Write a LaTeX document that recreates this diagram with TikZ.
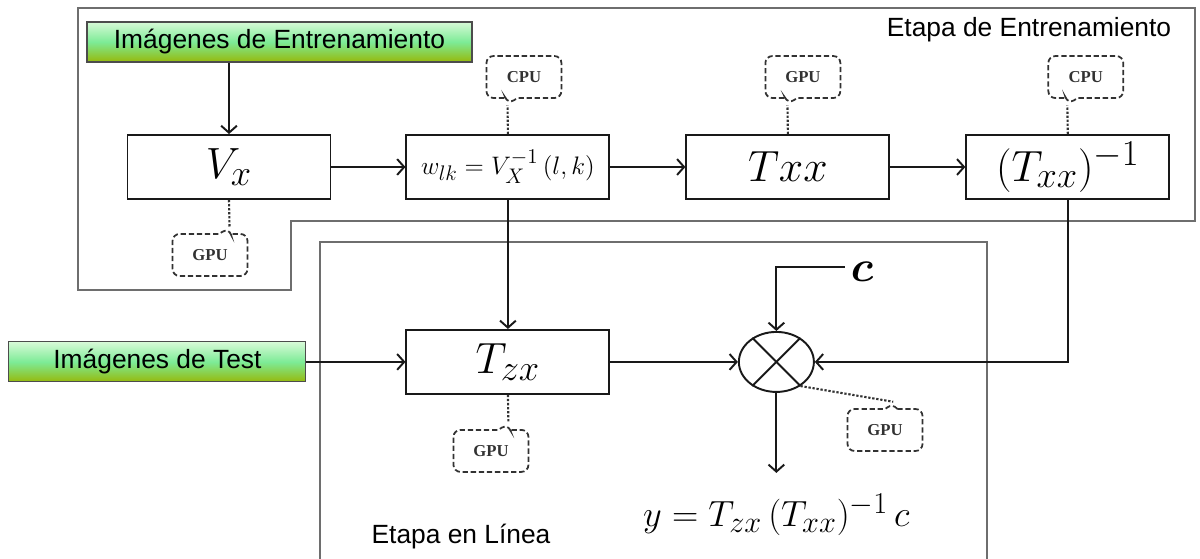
\documentclass[tikz,border=0pt]{standalone}
\usepackage{fontspec}
\usepackage{amsmath}
\setmainfont{Liberation Sans}
\newfontfamily\tagfont{Liberation Serif}
\usetikzlibrary{positioning, arrows.meta, shapes.geometric, shapes.callouts, calc}
% larger sub/superscripts for the block formulas
\DeclareMathSizes{26}{26}{21}{16}
\DeclareMathSizes{15}{15}{12}{10}
\DeclareMathSizes{21}{21}{17}{13}
\definecolor{GreenTop}{RGB}{215, 250, 215}
\definecolor{GreenMid}{RGB}{125, 235, 150}
\definecolor{GreenBot}{RGB}{150, 185, 10}
\definecolor{FrameColor}{RGB}{110, 110, 110}
\definecolor{LineColor}{RGB}{25, 25, 25}
\definecolor{TagColor}{RGB}{50, 50, 50}
\tikzset{
    block/.style={
        draw=LineColor,
        line width=1.1pt,
        minimum width=4.06cm,
        minimum height=1.28cm,
        inner sep=2pt
    },
    bigmath/.style={font=\fontsize{26}{30}\selectfont},
    source/.style={
        draw=black!70,
        line width=0.6pt,
        top color=GreenTop,
        bottom color=GreenBot,
        middle color=GreenMid,
        minimum height=0.8cm,
        inner sep=0pt,
        font=\fontsize{15}{18}\selectfont
    },
    tag/.style={
        rectangle callout,
        draw=TagColor,
        line width=1pt,
        dash pattern=on 3pt off 1.6pt,
        rounded corners=4pt,
        minimum width=1.5cm,
        minimum height=0.84cm,
        callout pointer width=0.24cm,
        text=TagColor,
        font=\tagfont\bfseries\fontsize{9.5}{12}\selectfont
    }
}

\begin{document}
\begin{tikzpicture}[
    flow/.style={draw=LineColor, line width=1.1pt, -{Straight Barb[length=4pt, width=9pt]}},
    link/.style={draw=TagColor, line width=1.2pt, dash pattern=on 1.3pt off 1pt},
    frame/.style={draw=FrameColor, line width=0.7pt},
    stage/.style={font=\fontsize{15}{18}\selectfont}
]
    \useasboundingbox (0,0) rectangle (24,-11.18);

    % ============================================================================
    % STAGES
    % ============================================================================

    % Training stage (L-shaped frame)
    \draw[frame] (1.56,-0.16) -- (23.9,-0.16) -- (23.9,-4.42) -- (5.82,-4.42)
        -- (5.82,-5.8) -- (1.56,-5.8) -- cycle;
    \node[stage] (TrainStage) at (20.58,-0.6) {Etapa de Entrenamiento};

    % Online stage (open at the bottom)
    \draw[frame] (6.4,-11.18) -- (6.4,-4.84) -- (19.74,-4.84) -- (19.74,-11.18);
    \node[stage] (OnlineStage) at (9.22,-10.74) {Etapa en Línea};

    % ============================================================================
    % BLOCKS
    % ============================================================================

    \node[source, minimum width=7.7cm] (TrainImages) at (5.59,-0.84) {Imágenes de Entrenamiento};

    \node[block, bigmath] (Vx) at (4.58,-3.34) {$V_x$};
    \node[block, right=1.48cm of Vx, font=\fontsize{15}{18}\selectfont] (Weights)
        {$w_{lk}=V_X^{-1}\,(l,k)$};
    \node[block, bigmath, right=1.5cm of Weights] (Txx) {$Txx$};
    \node[block, bigmath, right=1.5cm of Txx] (TxxInv) {$(T_{xx})^{-1}$};

    \node[block, bigmath, below=2.58cm of Weights] (Tzx) {$T_{zx}$};
    \node[source, minimum width=5.94cm, left=1.98cm of Tzx] (TestImages) {Imágenes de Test};

    % Product node
    \node[draw=LineColor, line width=1.1pt, ellipse, minimum width=1.5cm,
          minimum height=1.2cm, right=2.55cm of Tzx] (Mult) {};
    \draw[LineColor, line width=1.1pt] (Mult.45) -- (Mult.225);
    \draw[LineColor, line width=1.1pt] (Mult.135) -- (Mult.315);

    \node[font=\fontsize{28}{32}\selectfont] (CLabel) at (17.24,-5.44) {$\boldsymbol{c}$};

    \coordinate[below=1.6cm of Mult.south] (OutEnd);
    \node[below=0.3cm of OutEnd, font=\fontsize{21}{25}\selectfont] (Output)
        {$y=T_{zx}\,(T_{xx})^{-1}\,c$};

    % ============================================================================
    % PROCESSOR TAGS
    % ============================================================================

    \node[tag, callout absolute pointer={($(Weights.north)+(0,0.6)$)}] (CpuW)
        at ($(Weights.north)+(0.32,1.14)$) {CPU};
    \node[tag, callout absolute pointer={($(Txx.north)+(0,0.6)$)}] (GpuT)
        at ($(Txx.north)+(0.3,1.14)$) {GPU};
    \node[tag, callout absolute pointer={($(TxxInv.north)+(0,0.6)$)}] (CpuI)
        at ($(TxxInv.north)+(0.36,1.14)$) {CPU};
    \node[tag, callout absolute pointer={($(Vx.south)+(0,-0.56)$)}] (GpuV)
        at ($(Vx.south)+(-0.38,-1.1)$) {GPU};
    \node[tag, callout absolute pointer={($(Tzx.south)+(0,-0.58)$)}] (GpuZ)
        at ($(Tzx.south)+(-0.34,-1.12)$) {GPU};
    \node[tag, callout absolute pointer={(17.86,-8.06)}] (GpuM) at (17.7,-8.6) {GPU};

    \draw[link] (Weights.north) -- (CpuW.pointer);
    \draw[link] (Txx.north) -- (GpuT.pointer);
    \draw[link] (TxxInv.north) -- (CpuI.pointer);
    \draw[link] (Vx.south) -- (GpuV.pointer);
    \draw[link] (Tzx.south) -- (GpuZ.pointer);
    \draw[link] (Mult.-45) -- (GpuM.pointer);

    % ============================================================================
    % DATA FLOW
    % ============================================================================

    \draw[flow] (TrainImages.south -| Vx.north) -- (Vx.north);
    \draw[flow] (Vx) -- (Weights);
    \draw[flow] (Weights) -- (Txx);
    \draw[flow] (Txx) -- (TxxInv);
    \draw[flow] (Weights) -- (Tzx);
    \draw[flow] (TestImages) -- (Tzx);
    \draw[flow] (Tzx) -- (Mult);
    \draw[flow] (TxxInv.south) |- (Mult.east);
    \draw[flow] ([yshift=0.1cm]CLabel.west) -| (Mult.north);
    \draw[flow] (Mult.south) -- (OutEnd);

\end{tikzpicture}
\end{document}
